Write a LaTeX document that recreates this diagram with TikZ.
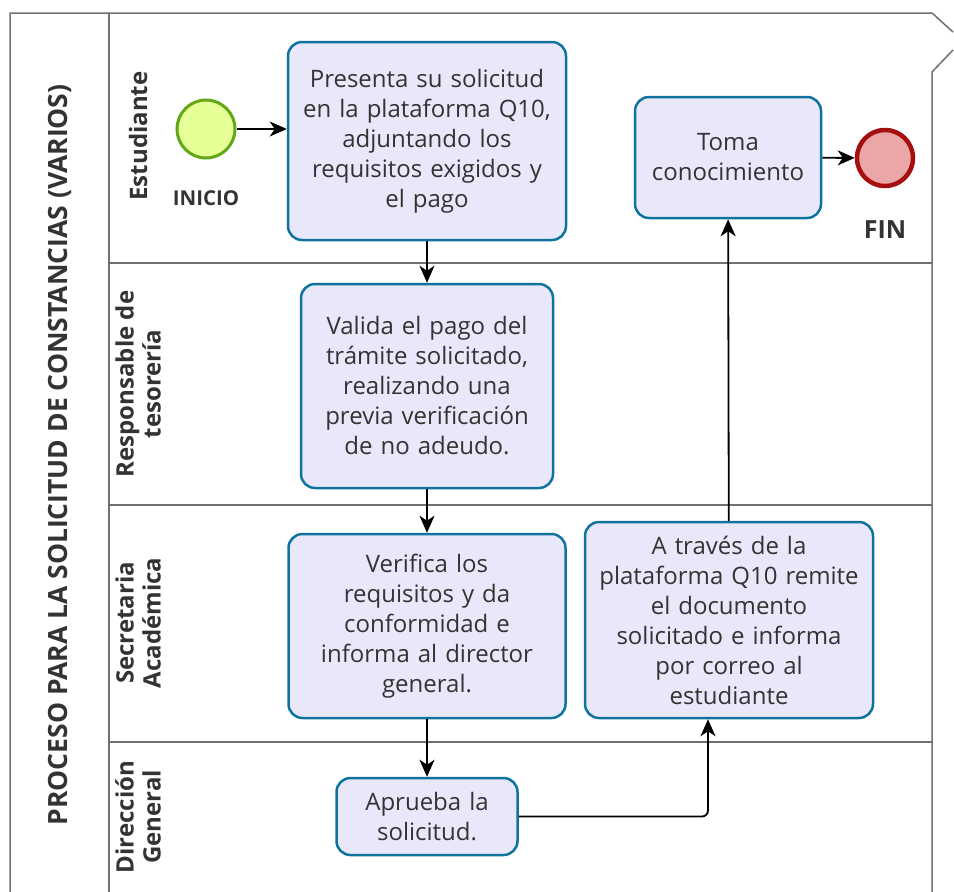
\documentclass[tikz,border=0pt]{standalone}
\usepackage{fontspec}
\setmainfont{Open Sans}
\usetikzlibrary{positioning,arrows.meta}
\definecolor{taskfill}{HTML}{E8E8FA}
\definecolor{taskline}{HTML}{10739E}
\definecolor{startfill}{HTML}{E6FF97}
\definecolor{startline}{HTML}{62A716}
\definecolor{endfill}{HTML}{EBA7A7}
\definecolor{endline}{HTML}{A50F0F}
\definecolor{lanegray}{HTML}{707070}
\definecolor{textgray}{HTML}{333333}
\tikzset{
	task/.style={
		draw=taskline,
		fill=taskfill,
		line width=2.5pt,
		rounded corners=14pt,
		inner xsep=6pt,
		text width=#1,
		align=center,
		text=textgray,
		font=\fontsize{24}{30}\selectfont
	},
	start event/.style={ % green circle
		draw=startline,
		fill=startfill,
		circle,
		line width=3pt,
		minimum size=58pt,
		label={[font=\fontsize{20.5}{22}\selectfont\bfseries,text=textgray,yshift=-28pt]below:#1}
	},
	end event/.style={ % red circle
		draw=endline,
		fill=endfill,
		circle,
		line width=4.5pt,
		minimum size=56pt,
		label={[font=\fontsize{25}{28}\selectfont\bfseries,text=textgray,yshift=-29pt]below:#1}
	},
	lane label/.style={
		rotate=90,
		align=center,
		text=textgray,
		font=\fontsize{24}{27}\selectfont\bfseries
	},
	flow/.style={
		draw,
		line width=1.8pt,
		-{Stealth[length=17pt,width=15pt,inset=5pt]}
	},
	pool line/.style={
		draw=lanegray,
		line width=1.5pt
	},
}
\begin{document}
\begin{tikzpicture}[x=1pt,y=-1pt]
	\useasboundingbox (0,0) rectangle (954,892);
	% pool and lanes
	\draw[pool line] (10,892) -- (10,13) -- (932,13) -- (953,32);
	\draw[pool line] (953,50) -- (932,72) -- (932,892);
	\draw[pool line] (109,13) -- (109,892);
	\draw[pool line] (109,263) -- (932,263);
	\draw[pool line] (109,505) -- (932,505);
	\draw[pool line] (109,742) -- (932,742);
	\node[lane label, font=\fontsize{26.5}{30}\selectfont\bfseries] (pool) at (60,455) {PROCESO PARA LA SOLICITUD DE CONSTANCIAS (VARIOS)};
	\node[lane label] (est) at (138,136) {Estudiante};
	\node[lane label] (tes) at (138,384) {Responsable de\\tesorería};
	\node[lane label] (sec) at (138,623) {Secretaria\\Académica};
	\node[lane label] (dir) at (138,817) {Dirección\\General};
	% events and tasks
	\node[start event=INICIO] (inicio) at (206,129) {};
	\node[task=266pt, minimum height=198pt] (presenta) at (427,141) {Presenta su solicitud\\en la plataforma Q10,\\adjuntando los\\requisitos exigidos y\\el pago};
	\node[task=240pt, minimum height=204pt] (valida) at (427,386) {Valida el pago del\\trámite solicitado,\\realizando una\\previa verificación\\de no adeudo.};
	\node[task=265pt, minimum height=184pt] (verifica) at (427,626) {Verifica los\\requisitos y da\\conformidad e\\informa al director\\general.};
	\node[task=169pt, minimum height=77pt] (aprueba) at (427,816.5) {Aprueba la\\solicitud.};
	\node[task=276pt, minimum height=196pt] (remite) at (729,620) {A través de la\\plataforma Q10 remite\\el documento\\solicitado e informa\\por correo al\\estudiante};
	\node[task=174pt, minimum height=121pt] (toma) at (728,157.5) {Toma\\conocimiento};
	\node[end event=FIN] (fin) at (885,158) {};
	% flows
	\draw[flow] (inicio) -- (presenta.west |- inicio);
	\draw[flow] (presenta) -- (valida);
	\draw[flow] (valida) -- (verifica);
	\draw[flow] (verifica) -- (aprueba);
	\draw[flow, rounded corners=6pt] (aprueba.east) -| ([xshift=-21pt]remite.south);
	\draw[flow] (remite) -- (toma);
	\draw[flow] (toma) -- (fin);
\end{tikzpicture}
\end{document}
